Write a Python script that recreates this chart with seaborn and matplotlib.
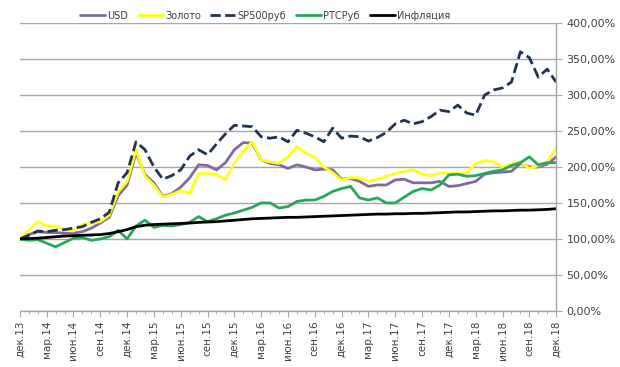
import matplotlib
matplotlib.use('Agg')
from matplotlib import pyplot as plt
from matplotlib.ticker import FuncFormatter, MultipleLocator
import seaborn as sns
import pandas as pd


# Данные (месяцы с дек.13 по дек.18, % к дек.13)
usd = [100, 106, 110, 109, 109, 108, 108, 110, 115, 122, 130, 160, 175, 220, 189, 178,
       159, 163, 172, 185, 203, 202, 196, 206, 224, 234, 233, 210, 205, 203, 198, 203,
       200, 196, 197, 196, 183, 184, 180, 173, 175, 175, 182, 183, 178, 178, 178, 180,
       173, 174, 177, 180, 190, 192, 193, 194, 205, 200, 200, 204, 214]
zoloto = [100, 112, 124, 118, 118, 112, 111, 120, 122, 124, 133, 165, 180, 224, 187, 175,
          158, 162, 167, 163, 191, 191, 190, 182, 205, 222, 235, 210, 207, 205, 214, 228,
          219, 214, 200, 192, 182, 185, 185, 180, 183, 187, 191, 194, 196, 190, 188, 192,
          191, 191, 192, 205, 209, 207, 200, 204, 207, 198, 202, 207, 226]
sp500 = [100, 105, 111, 110, 112, 113, 115, 117, 123, 128, 137, 178, 192, 235, 224, 200,
         183, 188, 196, 215, 224, 217, 232, 246, 258, 257, 256, 242, 240, 242, 235, 251,
         247, 242, 235, 254, 240, 243, 242, 236, 241, 248, 260, 265, 260, 263, 270, 279,
         277, 286, 275, 272, 300, 307, 310, 318, 360, 352, 325, 336, 318]
rts = [100, 98, 99, 94, 89, 95, 101, 102, 98, 100, 103, 112, 100, 118, 126, 116,
       119, 118, 120, 123, 131, 124, 128, 133, 136, 140, 144, 150, 150, 143, 145, 152,
       154, 154, 159, 166, 170, 173, 157, 154, 157, 150, 150, 158, 166, 170, 168, 175,
       189, 190, 187, 188, 191, 194, 196, 202, 206, 214, 203, 206, 206]
inflyaciya = [100, 100.5, 101, 102, 103, 104, 104.5, 105, 105.5, 106, 107.5, 110, 113, 117, 119, 120,
              120.5, 121, 121.5, 122, 123, 123.5, 124, 125, 126, 127, 128, 128.5, 129, 129.5, 130, 130,
              130.5, 131, 131.5, 132, 132.5, 133, 133.5, 134, 134.5, 134.5, 135, 135, 135.5, 135.5, 136, 136.5,
              137, 137.5, 137.5, 138, 138.5, 139, 139, 139.5, 140, 140, 140.5, 141, 142]

rotulos = ['дек.13', 'мар.14', 'июн.14', 'сен.14', 'дек.14', 'мар.15', 'июн.15', 'сен.15',
           'дек.15', 'мар.16', 'июн.16', 'сен.16', 'дек.16', 'мар.17', 'июн.17', 'сен.17',
           'дек.17', 'мар.18', 'июн.18', 'сен.18', 'дек.18']

df = pd.DataFrame({'mes': range(len(usd)), 'USD': usd, 'Золото': zoloto,
                   'SP500руб': sp500, 'РТСРуб': rts, 'Инфляция': inflyaciya})

series = [('USD', '#7f6a9f', '-'), ('Золото', '#ffff1a', '-'), ('SP500руб', '#1f3550', '--'),
          ('РТСРуб', '#25a85a', '-'), ('Инфляция', '#000000', '-')]

sns.set_style('white')
fig = plt.figure(figsize=(6.2, 3.67), dpi=100)
ax = fig.add_axes([0.032, 0.153, 0.865, 0.784])

for nome, cor, estilo in series:
    sns.lineplot(data=df, x='mes', y=nome, color=cor, linestyle=estilo,
                 linewidth=2.0, ax=ax, label=nome)

ax.set_xlim(0, 60)
ax.set_ylim(0, 400)
ax.yaxis.tick_right()
ax.yaxis.set_major_locator(MultipleLocator(50))
ax.yaxis.set_major_formatter(FuncFormatter(lambda v, p: f'{v:.2f}%'.replace('.', ',')))
ax.grid(axis='y', color='#a6a6a6', linewidth=1)
ax.set_axisbelow(True)

ax.set_xticks(range(0, 61, 3))
ax.set_xticklabels(rotulos, rotation=90)
ax.xaxis.set_minor_locator(MultipleLocator(1))
ax.tick_params(axis='x', which='major', length=4, color='#a6a6a6', labelsize=7.5,
               labelcolor='#404040', bottom=True, pad=3)
ax.tick_params(axis='x', which='minor', length=2, color='#a6a6a6', bottom=True)
ax.tick_params(axis='y', length=4, color='#a6a6a6', labelsize=8, labelcolor='#404040', right=True)

for lado in ['left', 'top']:
    ax.spines[lado].set_visible(False)
for lado in ['right', 'bottom']:
    ax.spines[lado].set_color('#a6a6a6')
    ax.spines[lado].set_linewidth(1)

ax.set_xlabel('')
ax.set_ylabel('')
ax.legend(loc='lower center', bbox_to_anchor=(0.457, 0.995), ncol=5, frameon=False,
          fontsize=7, handlelength=2.6, columnspacing=1.0, handletextpad=0.2,
          borderaxespad=0)
for txt in ax.get_legend().get_texts():
    txt.set_color('#404040')

plt.savefig('out.png', dpi=100)
